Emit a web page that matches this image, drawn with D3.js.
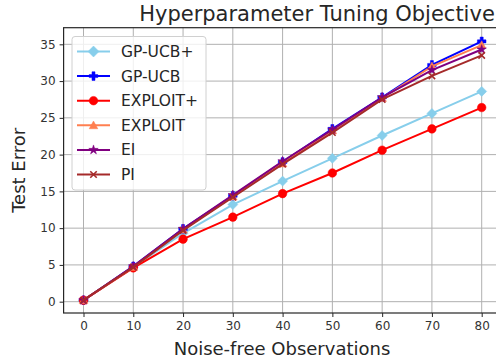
<!DOCTYPE html>
<html>
<head>
<meta charset="utf-8">
<script src="https://d3js.org/d3.v7.min.js"></script>
<style>
body { margin: 0; background: #fff; }
text { font-family: "DejaVu Sans", sans-serif; }
</style>
</head>
<body>
<div id="chart"></div>
<script>
var xs = [0, 10, 20, 30, 40, 50, 60, 70, 80];
var gpucbPlus = [0.2, 4.7, 9.3, 13.2, 16.4, 19.5, 22.6, 25.6, 28.6];
var gpucb = [0.2, 4.8, 9.9, 14.4, 19.0, 23.5, 27.8, 32.2, 35.4];
var exploitPlus = [0.2, 4.6, 8.5, 11.5, 14.7, 17.5, 20.6, 23.5, 26.4];
var exploit = [0.2, 4.7, 9.8, 14.3, 18.8, 23.3, 27.7, 32.0, 34.9];
var ei = [0.2, 4.8, 9.9, 14.5, 19.1, 23.4, 27.8, 31.5, 34.3];
var pi = [0.2, 4.7, 9.7, 14.2, 18.7, 23.0, 27.5, 30.7, 33.5];
var xTicks = [0, 10, 20, 30, 40, 50, 60, 70, 80];
var yTicks = [0, 5, 10, 15, 20, 25, 30, 35];

var series = [
    {name: "GP-UCB+", values: gpucbPlus, color: "#87ceeb", marker: "D"},
    {name: "GP-UCB", values: gpucb, color: "#0000ff", marker: "P"},
    {name: "EXPLOIT+", values: exploitPlus, color: "#ff0000", marker: "o"},
    {name: "EXPLOIT", values: exploit, color: "#ff7f50", marker: "^"},
    {name: "EI", values: ei, color: "#800080", marker: "*"},
    {name: "PI", values: pi, color: "#a52a2a", marker: "x"}
];

var width = 496, height = 360;
var plotLeft = 63.6, plotRight = 501.6, plotTop = 27.7, plotBottom = 313;

var svg = d3.select("#chart").append("svg")
    .attr("width", width)
    .attr("height", height);

var x_scale = d3.scaleLinear().domain([-4, 84]).range([plotLeft, plotRight]);
var y_scale = d3.scaleLinear().domain([-1.54, 37.26]).range([plotBottom, plotTop]);

// grid
svg.append("g").selectAll("line")
    .data(xTicks).enter().append("line")
    .attr("x1", function(d) { return x_scale(d); })
    .attr("x2", function(d) { return x_scale(d); })
    .attr("y1", plotTop).attr("y2", plotBottom)
    .attr("stroke", "#b0b0b0").attr("stroke-width", 1);
svg.append("g").selectAll("line")
    .data(yTicks).enter().append("line")
    .attr("y1", function(d) { return y_scale(d); })
    .attr("y2", function(d) { return y_scale(d); })
    .attr("x1", plotLeft).attr("x2", plotRight)
    .attr("stroke", "#b0b0b0").attr("stroke-width", 1);

// axes
var x_axis = d3.axisBottom(x_scale).tickValues(xTicks).tickSize(4).tickPadding(4);
var y_axis = d3.axisLeft(y_scale).tickValues(yTicks).tickSize(4).tickPadding(4);

var gx = svg.append("g")
    .attr("transform", "translate(0," + plotBottom + ")")
    .call(x_axis);
var gy = svg.append("g")
    .attr("transform", "translate(" + plotLeft + ",0)")
    .call(y_axis);
[gx, gy].forEach(function(g) {
    g.select(".domain").remove();
    g.selectAll("line").attr("stroke", "#262626");
    g.selectAll("text").attr("fill", "#333333")
        .style("font-family", "DejaVu Sans").style("font-size", "12px");
});

// spines
svg.append("rect")
    .attr("x", plotLeft).attr("y", plotTop)
    .attr("width", plotRight - plotLeft).attr("height", plotBottom - plotTop)
    .attr("fill", "none").attr("stroke", "#262626").attr("stroke-width", 1.2);

function markerPath(type, s) {
    if (type === "D") {
        return "M0," + (-s) + "L" + s + ",0L0," + s + "L" + (-s) + ",0Z";
    }
    if (type === "P") {
        var a = s * 0.35;
        return "M" + (-a) + "," + (-s) + "H" + a + "V" + (-a) + "H" + s + "V" + a + "H" + a +
            "V" + s + "H" + (-a) + "V" + a + "H" + (-s) + "V" + (-a) + "H" + (-a) + "Z";
    }
    if (type === "o") {
        return d3.symbol().type(d3.symbolCircle).size(Math.PI * s * s)();
    }
    if (type === "^") {
        return "M0," + (-s) + "L" + s + "," + (s * 0.8) + "L" + (-s) + "," + (s * 0.8) + "Z";
    }
    if (type === "*") {
        return d3.symbol().type(d3.symbolStar).size(s * s * 1.5)();
    }
    if (type === "x") {
        var b = s * 0.75;
        return "M" + (-b) + "," + (-b) + "L" + b + "," + b + "M" + (-b) + "," + b + "L" + b + "," + (-b);
    }
}

function drawMarker(g, type, color, px, py, s) {
    var p = g.append("path")
        .attr("d", markerPath(type, s))
        .attr("transform", "translate(" + px + "," + py + ")");
    if (type === "x") {
        p.attr("fill", "none").attr("stroke", color).attr("stroke-width", 1.6);
    } else {
        p.attr("fill", color).attr("stroke", color).attr("stroke-width", 0.5);
    }
}

var line = d3.line()
    .x(function(d, i) { return x_scale(xs[i]); })
    .y(function(d) { return y_scale(d); });

var plot = svg.append("g");
series.forEach(function(s) {
    var g = plot.append("g");
    g.append("path")
        .datum(s.values)
        .attr("d", line)
        .attr("fill", "none")
        .attr("stroke", s.color)
        .attr("stroke-width", 2);
    s.values.forEach(function(v, i) {
        var sz = s.marker === "D" ? 5 : 4.3;
        drawMarker(g, s.marker, s.color, x_scale(xs[i]), y_scale(v), sz);
    });
});

// legend
var lg = svg.append("g");
lg.append("rect")
    .attr("x", 72).attr("y", 36.5)
    .attr("width", 134).attr("height", 153.5)
    .attr("rx", 3)
    .attr("fill", "#ffffff").attr("fill-opacity", 0.8)
    .attr("stroke", "#d0d0d0").attr("stroke-width", 1);
series.forEach(function(s, i) {
    var yy = 51.5 + i * 24.6;
    lg.append("line")
        .attr("x1", 77).attr("x2", 110)
        .attr("y1", yy).attr("y2", yy)
        .attr("stroke", s.color).attr("stroke-width", 2);
    drawMarker(lg, s.marker, s.color, 93.5, yy, s.marker === "D" ? 5.5 : 4.3);
    lg.append("text")
        .attr("x", 121).attr("y", yy + 5.5)
        .attr("fill", "#262626")
        .style("font-size", "15.5px")
        .text(s.name);
});

// title and labels
svg.append("text")
    .attr("x", 317).attr("y", 21)
    .attr("text-anchor", "middle")
    .attr("fill", "#262626")
    .style("font-size", "21px")
    .text("Hyperparameter Tuning Objective");

svg.append("text")
    .attr("x", 282).attr("y", 355)
    .attr("text-anchor", "middle")
    .attr("fill", "#262626")
    .style("font-size", "18px")
    .text("Noise-free Observations");

svg.append("text")
    .attr("transform", "translate(25," + ((plotTop + plotBottom) / 2) + ") rotate(-90)")
    .attr("text-anchor", "middle")
    .attr("fill", "#262626")
    .style("font-size", "18px")
    .text("Test Error");
</script>
</body>
</html>
